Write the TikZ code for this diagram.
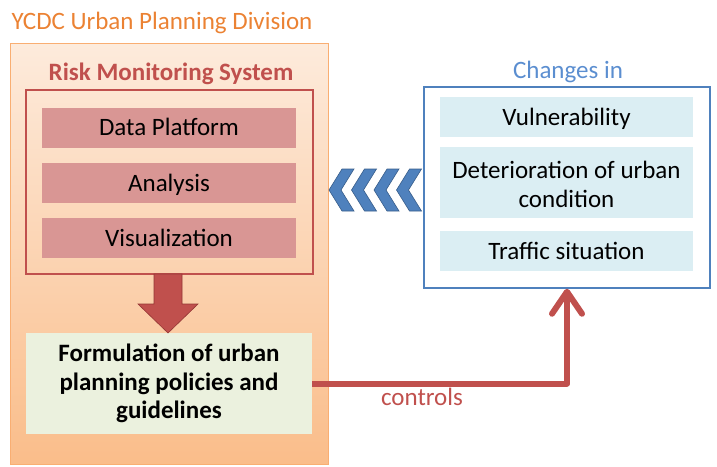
\documentclass[tikz,border=0pt]{standalone}
\usepackage{fontspec}
\setmainfont{Carlito}
\usetikzlibrary{arrows.meta}
\definecolor{titleOr}{HTML}{EB8233}
\definecolor{outerTop}{HTML}{FDEBDC}
\definecolor{outerBot}{HTML}{FABD8A}
\definecolor{outerLine}{HTML}{F9AE72}
\definecolor{redM}{HTML}{C0504D}
\definecolor{redD}{HTML}{943634}
\definecolor{pinkF}{HTML}{D99694}
\definecolor{greenF}{HTML}{EBF1DE}
\definecolor{blueB}{HTML}{4F81BD}
\definecolor{blueD}{HTML}{385D8A}
\definecolor{blueT}{HTML}{5B8ED0}
\definecolor{blueF}{HTML}{DBEEF3}
\begin{document}
\begin{tikzpicture}[x=1pt,y=-1pt,
  every node/.style={font=\fontsize{25}{29}\selectfont, inner sep=0pt},
  tx/.style={text height=16pt, text depth=0pt},
  pinkbox/.style={tx, fill=pinkF, minimum width=254pt, minimum height=40pt},
  bluebox/.style={fill=blueF, minimum width=253pt, align=center},
  chev/.style={fill=blueB, draw=blueD, line width=0.6pt, line join=miter}]
\useasboundingbox (0,0) rectangle (717,466);
% left side
\node[top color=outerTop, bottom color=outerBot, draw=outerLine, line width=1pt,
      minimum width=318pt, minimum height=421pt] (outer) at (169,253.5) {};
\node[tx, text=titleOr] (title) at (162,21.5) {YCDC Urban Planning Division};
\node[tx, text=redM, font=\fontsize{25}{29}\selectfont\bfseries] (risk) at (171,72.5) {Risk Monitoring System};
\node[draw=redM, line width=1.5pt, minimum width=287pt, minimum height=184pt] (redbox) at (169.5,182) {};
\node[pinkbox] (data) at (169,127.5) {Data Platform};
\node[pinkbox] (analysis) at (169,183) {Analysis};
\node[pinkbox] (visual) at (169,238) {Visualization};
\node[fill=greenF, minimum width=286pt, minimum height=101pt, align=center,
      font=\fontsize{25}{28.5}\selectfont\bfseries] (green) at (169,383.5)
      {Formulation of urban\\planning policies and\\guidelines};
% block arrow down
\draw[fill=redM, draw=redD, line width=0.6pt] (154,274) -- (182,274) -- (182,304) -- (198,304)
   -- (168,333) -- (138,304) -- (154,304) -- cycle;
% right side
\node[draw=blueB, line width=1.5pt, fill=white, minimum width=286pt, minimum height=201pt] (blue) at (567,187.5) {};
\node[tx, text=blueT] (changes) at (568,70) {Changes in};
\node[bluebox, tx, minimum height=40pt] (vuln) at (566.5,117) {Vulnerability};
\node[bluebox, minimum height=71pt, text height=49pt, text depth=0pt] (det) at (566.5,182.5) {Deterioration of urban\\condition};
\node[bluebox, tx, minimum height=40pt] (traffic) at (566.5,251) {Traffic situation};
% chevrons
\foreach \i in {0,1,2,3}{
  \pgfmathsetmacro{\xo}{329+22.5*\i}
  \draw[chev] (\xo,190) -- (\xo+13,169) -- (\xo+25,169) -- (\xo+12,190)
     -- (\xo+25,211) -- (\xo+13,211) -- cycle;
}
% controls connector
\draw[redM, line width=6pt, line join=round,
      -{Straight Barb[length=22pt, width=30pt, line cap=round, line join=round]}]
      (green.east) -| (blue.south);
\node[tx, text=redM] (ctl) at (422,397.5) {controls};
\end{tikzpicture}
\end{document}
